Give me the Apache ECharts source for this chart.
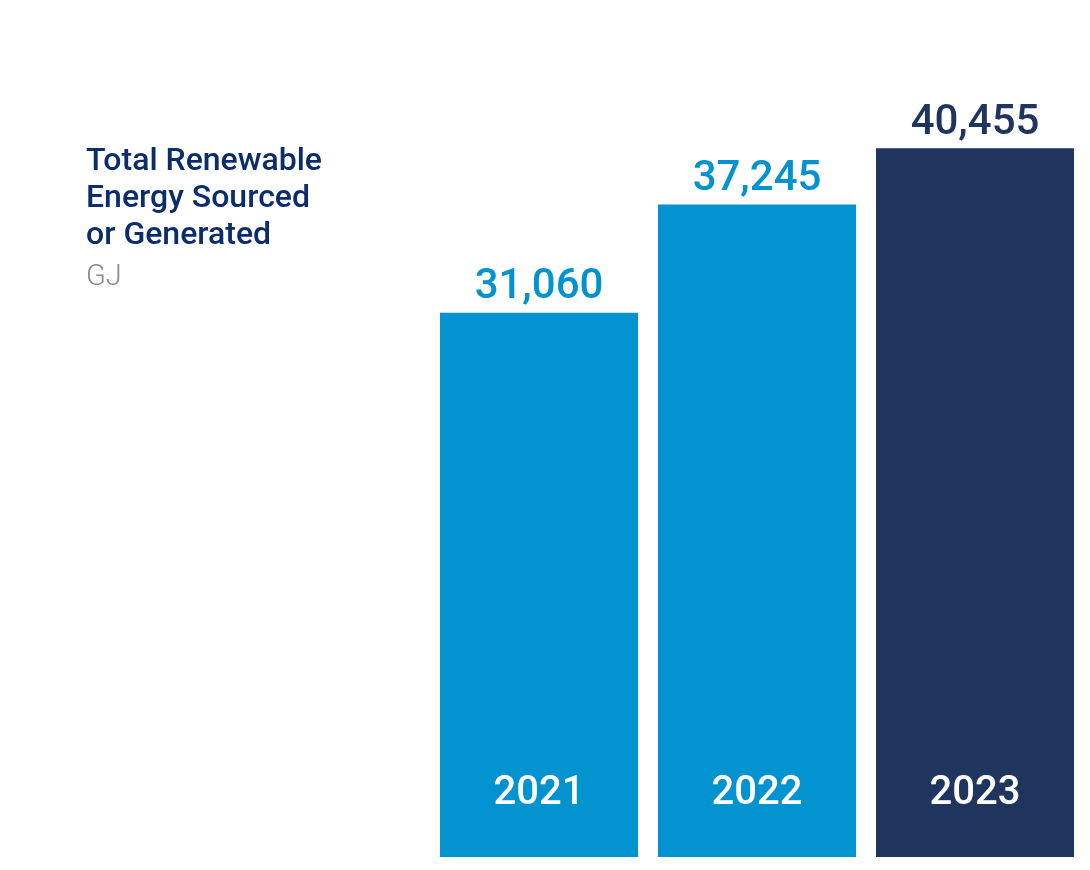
<!DOCTYPE html>
<html><head><meta charset="utf-8">
<script src="https://cdn.jsdelivr.net/npm/echarts@6/dist/echarts.min.js"></script>
<style>html,body{margin:0;padding:0;background:#fff}#c{width:1090px;height:870px}</style>
</head><body><div id="c"></div>
<script>
const years = ['2021', '2022', '2023'];
const values = [31060, 37245, 40455];
const colors = ['#0093CF', '#0093CF', '#1F355E'];
const titleText = 'Total Renewable\nEnergy Sourced\nor Generated';
const unitText = 'GJ';

const chart = echarts.init(document.getElementById('c'), null, {renderer: 'canvas'});
const FONT = 'Roboto';
chart.setOption({
  animation: false,
  backgroundColor: '#fff',
  title: [{
    text: titleText,
    left: 81, top: 138,
    textStyle: {fontFamily: FONT, fontSize: 32, fontWeight: 500, color: '#0B2D6B', lineHeight: 37}
  }, {
    text: unitText,
    left: 81, top: 256,
    textStyle: {fontFamily: FONT, fontSize: 29, fontWeight: 300, color: '#8A8A8A', lineHeight: 34}
  }],
  grid: {left: 430, right: 6, top: 16, bottom: 13, containLabel: false},
  xAxis: {
    type: 'category', data: years, z: 10,
    axisLine: {show: false}, axisTick: {show: false},
    axisLabel: {inside: true, margin: 43, color: '#fff', fontFamily: FONT, fontSize: 40, fontWeight: 500}
  },
  yAxis: {type: 'value', min: 0, max: 48000, show: false, splitLine: {show: false}},
  series: [{
    type: 'bar', barWidth: 198,
    data: values.map((v, i) => ({value: v, itemStyle: {color: colors[i]}, label: {color: colors[i]}})),
    label: {
      show: true, position: 'top', distance: 4,
      fontFamily: FONT, fontSize: 42, fontWeight: 500,
      formatter: p => p.value.toLocaleString('en-US')
    }
  }]
});
</script></body></html>
